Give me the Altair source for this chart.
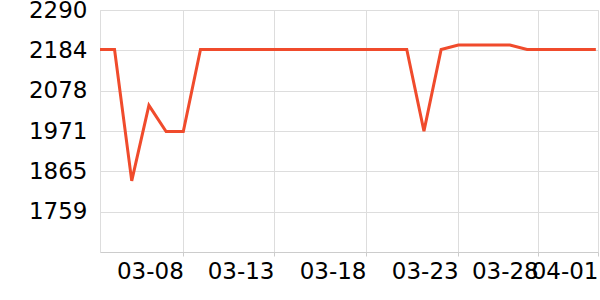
import altair as alt
import pandas as pd

# Data
dates = [
    "2024-03-03T00:00", "2024-03-04T00:00", "2024-03-05T00:00", "2024-03-06T00:00",
    "2024-03-07T00:00", "2024-03-08T00:00", "2024-03-09T00:00", "2024-03-10T00:00",
    "2024-03-11T00:00", "2024-03-12T00:00", "2024-03-13T00:00", "2024-03-14T00:00",
    "2024-03-15T00:00", "2024-03-16T00:00", "2024-03-17T00:00", "2024-03-18T00:00",
    "2024-03-19T00:00", "2024-03-20T00:00", "2024-03-21T00:00", "2024-03-22T00:00",
    "2024-03-23T00:00", "2024-03-24T00:00", "2024-03-25T00:00", "2024-03-26T00:00",
    "2024-03-27T00:00", "2024-03-28T00:00", "2024-03-29T00:00", "2024-03-30T00:00",
    "2024-03-31T00:00", "2024-04-01T00:00",
]
values = [
    2186, 2186, 1840, 2039, 1970, 1970, 2186, 2186,
    2186, 2186, 2186, 2186, 2186, 2186, 2186, 2186,
    2186, 2186, 2186, 1971, 2186, 2198, 2198, 2198,
    2198, 2186, 2186, 2186, 2186, 2186,
]

# Axis ticks
x_tick_times = [
    alt.DateTime(year=2024, month=3, date=8, hours=0, minutes=0),
    alt.DateTime(year=2024, month=3, date=13, hours=6, minutes=38),
    alt.DateTime(year=2024, month=3, date=18, hours=15, minutes=4),
    alt.DateTime(year=2024, month=3, date=23, hours=23, minutes=45),
    alt.DateTime(year=2024, month=3, date=28, hours=15, minutes=36),
    alt.DateTime(year=2024, month=4, date=1, hours=3, minutes=0),
]
x_domain = [
    alt.DateTime(year=2024, month=3, date=3, hours=3, minutes=42),
    alt.DateTime(year=2024, month=4, date=1, hours=3, minutes=0),
]
y_ticks = [1759, 1865, 1971, 2078, 2184, 2290]
y_domain = [1652.8, 2290]

df = pd.DataFrame({"date": dates, "value": values})

line_color = "#f04b2c"
font = "DejaVu Sans"

chart = (
    alt.Chart(df)
    .mark_line(clip=True, strokeWidth=3, color=line_color)
    .encode(
        x=alt.X(
            "date:T",
            scale=alt.Scale(domain=x_domain),
            axis=alt.Axis(
                title=None,
                values=x_tick_times,
                format="%m-%d",
                labelAlign="right",
                labelFont=font,
                labelFontSize=23,
                labelColor="#000000",
                labelPadding=4,
                labelFlush=False,
                labelOverlap=False,
                tickSize=4,
                tickColor="#cccccc",
                domainColor="#cccccc",
                gridColor="#dddddd",
                grid=True,
            ),
        ),
        y=alt.Y(
            "value:Q",
            scale=alt.Scale(domain=y_domain, nice=False, zero=False),
            axis=alt.Axis(
                title=None,
                values=y_ticks,
                format="d",
                labelFont=font,
                labelFontSize=23,
                labelColor="#000000",
                labelPadding=13,
                ticks=False,
                domain=True,
                domainColor="#dddddd",
                gridColor="#dddddd",
                grid=True,
                labelOverlap=False,
            ),
        ),
    )
    .properties(
        width=498,
        height=242,
        autosize=alt.AutoSizeParams(type="none"),
        padding={"left": 100, "top": 10, "right": 2, "bottom": 48},
    )
    .configure_view(stroke=None)
    .configure(background="#ffffff")
)

chart.save("out.html", embed_options={"renderer": "svg", "actions": False})
